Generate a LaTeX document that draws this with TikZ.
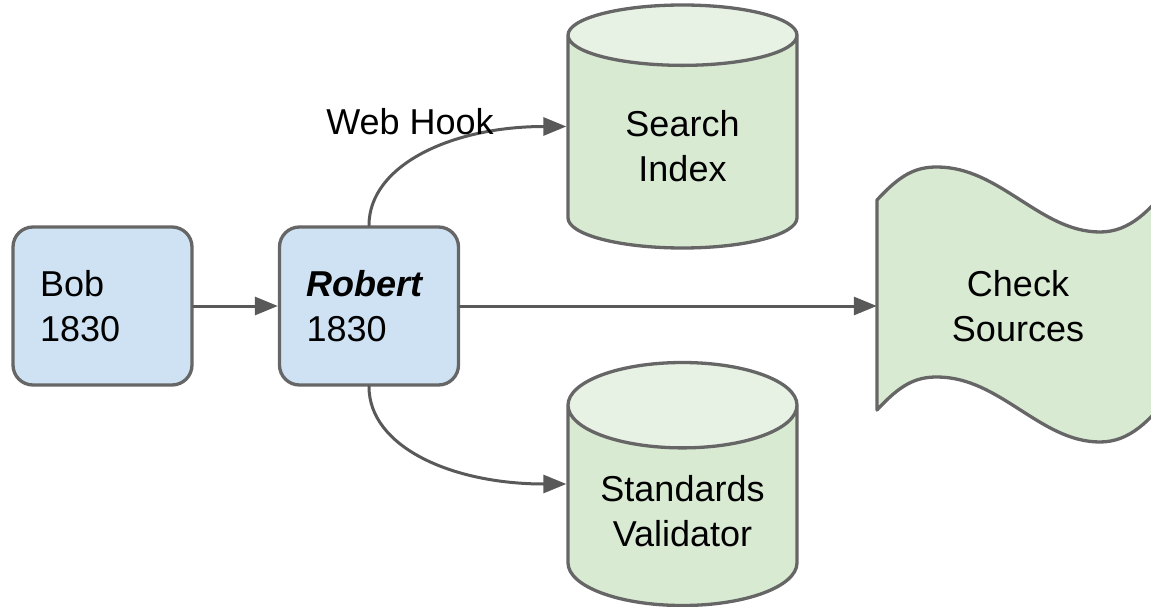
\documentclass[tikz,border=0pt]{standalone}
\usepackage{fontspec}
\setmainfont{Liberation Sans}
\usetikzlibrary{shapes.geometric,arrows.meta}
\definecolor{edgegray}{HTML}{595959}
\definecolor{rimgray}{HTML}{666666}
\definecolor{boxblue}{HTML}{CFE2F3}
\definecolor{boxgreen}{HTML}{D9EAD3}
\definecolor{lidgreen}{HTML}{E7F1E4}
\begin{document}
\begin{tikzpicture}[x=1pt, y=-1pt, line join=round, line cap=round,
	>={Triangle[length=23pt,width=18pt]},
	every node/.style={font=\fontsize{36}{45}\selectfont},
	person/.style={draw=rimgray, line width=3.3pt, fill=boxblue, rounded corners=20pt,
		minimum width=179pt, minimum height=158pt, text width=125pt,
		align=left, inner xsep=27pt, inner ysep=0pt},
	store/.style={cylinder, shape border rotate=90, draw=rimgray, line width=3.3pt,
		cylinder uses custom fill, cylinder body fill=boxgreen,
		cylinder end fill=lidgreen, minimum width=229pt, minimum height=243pt,
		aspect=0.5, align=center, anchor=shape center},
	link/.style={draw=edgegray, line width=3pt, ->}]
	\useasboundingbox (0,0) rectangle (1151,607);
	% people
	\node[person] (bob) at (102.5,306) {Bob\\1830};
	\node[person] (robert) at (369,306) {{\bfseries\itshape Robert}\\1830};
	% stores
	\node[store] (index) at (682.5,126.5) {Search\\Index};
	\node[store] (validator) at (682.5,484) {Standards\\Validator};
	% check sources (tape)
	\draw[draw=rimgray, line width=3.3pt, fill=boxgreen]
	(877,200) .. controls (900,175) and (915,167) .. (937,167)
	.. controls (1000,167) and (1040,232) .. (1100,232)
	.. controls (1130,232) and (1150,210) .. (1170,185)
	-- (1170,395)
	.. controls (1150,420) and (1130,442) .. (1100,442)
	.. controls (1040,442) and (1000,377) .. (937,377)
	.. controls (915,377) and (900,385) .. (877,410) -- cycle;
	\node[minimum width=282pt, align=center] (check) at (1018,306) {Check\\Sources};
	% links
	\draw[link] (bob) -- (robert);
	\draw[link] (robert) -- (check.west);
	\draw[link] (robert.north) .. controls +(0,-60) and +(-115,0) .. (index.west |- index.shape center);
	\draw[link] (robert.south) .. controls +(0,60) and +(-115,0) .. (validator.west |- validator.shape center);
	\node (hook) at (410,122) {Web Hook};
\end{tikzpicture}
\end{document}
